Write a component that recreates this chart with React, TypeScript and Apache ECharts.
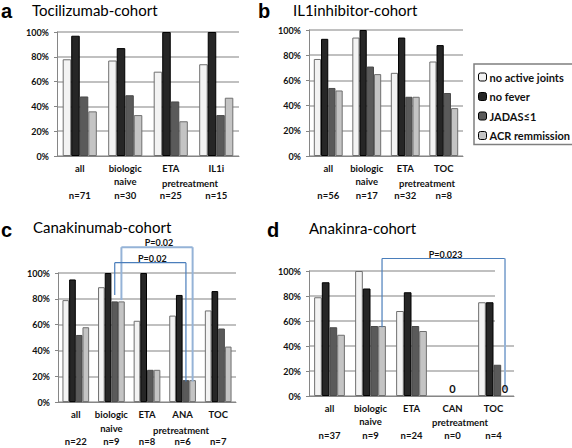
import React, { useEffect, useRef } from "react";
import * as echarts from "echarts";

// ---- data ----
const measureNames = ["no active joints", "no fever", "JADAS≤1", "ACR remmission"];

const catsA = ["all", "biologic\nnaive", "ETA", "IL1i"];
const nA = [71, 30, 25, 15];
const noActiveA = [78, 77, 68, 74];
const noFeverA = [97, 87, 100, 100];
const jadasA = [48, 49, 44, 33];
const acrA = [36, 33, 28, 47];

const catsB = ["all", "biologic\nnaive", "ETA", "TOC"];
const nB = [56, 17, 32, 8];
const noActiveB = [77, 94, 66, 75];
const noFeverB = [93, 100, 94, 88];
const jadasB = [54, 71, 47, 50];
const acrB = [52, 65, 47, 38];

const catsC = ["all", "biologic\nnaive", "ETA", "ANA", "TOC"];
const nC = [22, 9, 8, 6, 7];
const noActiveC = [79, 89, 63, 67, 71];
const noFeverC = [95, 100, 100, 83, 86];
const jadasC = [52, 78, 25, 17, 57];
const acrC = [58, 78, 25, 17, 43];

const catsD = ["all", "biologic\nnaive", "ETA", "CAN", "TOC"];
const nD = [37, 9, 24, 0, 4];
// null = 0 % without a visible bar (labelled "0" instead)
const noActiveD = [79, 100, 68, null, 75];
const noFeverD = [91, 86, 83, null, 75];
const jadasD = [55, 56, 56, null, 25];
const acrD = [49, 56, 52, null, null];
const zeroLabelsD = [
  { cat: 3, bar: null },
  { cat: 4, bar: 3 },
];

const titles = ["Tocilizumab-cohort", "IL1inhibitor-cohort", "Canakinumab-cohort", "Anakinra-cohort"];
const letters = ["a", "b", "c", "d"];

const DARK_BLUE = "#4a7ebb";
const LIGHT_BLUE = "#95b3d7";

// brackets: [category, bar index, value] for both ends; top = value of horizontal line
const bracketsC = [
  { from: [1, 3, 79], to: [3, 3, 16], top: 120, label: "P=0.02", colors: [LIGHT_BLUE, LIGHT_BLUE, LIGHT_BLUE], widths: [2, 2, 2] },
  { from: [1, 2, 83], to: [3, 2, 16], top: 108, label: "P=0.02", colors: [DARK_BLUE, DARK_BLUE, DARK_BLUE], widths: [1.2, 1.2, 1.2] },
];
const bracketsD = [
  { from: [1, 3, 55], to: [4, 3, 5], top: 110, label: "P=0.023", colors: [DARK_BLUE, DARK_BLUE, LIGHT_BLUE], widths: [1.2, 1.2, 2] },
];

const panels = [
  { cats: catsA, n: nA, values: [noActiveA, noFeverA, jadasA, acrA] },
  { cats: catsB, n: nB, values: [noActiveB, noFeverB, jadasB, acrB] },
  { cats: catsC, n: nC, values: [noActiveC, noFeverC, jadasC, acrC] },
  { cats: catsD, n: nD, values: [noActiveD, noFeverD, jadasD, acrD] },
];

const GAP = 0.25;
const FONT = "Lato";

function barX(api: any, cat: number, bar: number | null) {
  const bandW = api.size([1, 0])[0];
  const groupW = bandW * (1 - GAP);
  const c = api.coord([cat, 0])[0];
  if (bar == null) return c;
  return c - groupW / 2 + ((bar + 0.5) * groupW) / 4;
}

function bracketSeries(panel: number, brackets: any[], zeros: any[]) {
  return {
    type: "custom",
    xAxisIndex: panel,
    yAxisIndex: panel,
    clip: false,
    silent: true,
    z: 5,
    data: [[0, 0]],
    renderItem: (params: any, api: any) => {
      const children: any[] = [];
      brackets.forEach((b) => {
        const x1 = barX(api, b.from[0], b.from[1]);
        const y1 = api.coord([b.from[0], b.from[2]])[1];
        const x2 = barX(api, b.to[0], b.to[1]);
        const y2 = api.coord([b.to[0], b.to[2]])[1];
        const yt = api.coord([0, b.top])[1];
        const segs = [
          [[x1, y1], [x1, yt]],
          [[x1, yt], [x2, yt]],
          [[x2, yt], [x2, y2]],
        ];
        segs.forEach((pts, i) => {
          children.push({
            type: "polyline",
            shape: { points: pts },
            style: { stroke: b.colors[i], lineWidth: b.widths[i], fill: null },
          });
        });
        children.push({
          type: "text",
          style: {
            text: b.label,
            x: (x1 + x2) / 2 + 2,
            y: yt,
            align: "center",
            verticalAlign: "bottom",
            font: `bold 9px ${FONT}`,
            lineHeight: 9,
            fill: "#111",
          },
        });
      });
      zeros.forEach((z) => {
        const x = barX(api, z.cat, z.bar);
        const y = api.coord([z.cat, 0])[1];
        children.push({
          type: "text",
          style: {
            text: "0",
            x,
            y: y - 2,
            align: "center",
            verticalAlign: "bottom",
            font: `bold 11px ${FONT}`,
            fill: "#111",
          },
        });
      });
      return { type: "group", children };
    },
  };
}

const grids = [
  { left: 57, top: 32, width: 182, height: 124 },
  { left: 309, top: 30, width: 154, height: 126 },
  { left: 58, top: 273, width: 178, height: 130 },
  { left: 309, top: 271, width: 205, height: 125 },
];

const barStyles = [
  { color: "#f3f3f3", borderColor: "#6f6f6f" },
  { color: "#262626", borderColor: "#000000" },
  { color: "#5a5a5a", borderColor: "#4a4a4a" },
  { color: "#c4c4c4", borderColor: "#6f6f6f" },
];

export default function App() {
  const ref = useRef<HTMLDivElement>(null);
  useEffect(() => {
    if (!ref.current) return;
    const chart = echarts.init(ref.current, null, { renderer: "svg" });

    const xAxis = panels.map((p, i) => ({
      type: "category",
      gridIndex: i,
      data: p.cats,
      axisLine: { lineStyle: { color: "#868686", width: 1 } },
      axisTick: { length: 4, lineStyle: { color: "#868686" } },
      axisLabel: {
        interval: 0,
        margin: 6,
        fontFamily: FONT,
        fontSize: 9.5,
        fontWeight: "bold",
        color: "#111",
        lineHeight: 13.3,
        formatter: (v: string, idx: number) => {
          const lines = v.split("\n");
          return `${lines[0]}\n${lines[1] || " "}\nn=${p.n[idx]}`;
        },
      },
    }));

    const yAxis = panels.map((p, i) => ({
      type: "value",
      gridIndex: i,
      min: 0,
      max: 100,
      interval: 20,
      axisLine: { show: true, lineStyle: { color: "#868686" } },
      axisTick: { show: true, length: 3, lineStyle: { color: "#868686" } },
      splitLine: { lineStyle: { color: "#c0c0c0", width: 2 } },
      axisLabel: {
        margin: 8,
        fontFamily: FONT,
        fontSize: 9,
        fontWeight: "bold",
        color: "#111",
        formatter: "{value}%",
      },
    }));

    const series: any[] = [];
    panels.forEach((p, pi) => {
      p.values.forEach((vals, mi) => {
        series.push({
          type: "bar",
          name: measureNames[mi],
          xAxisIndex: pi,
          yAxisIndex: pi,
          data: vals,
          barGap: "0%",
          barCategoryGap: `${GAP * 100}%`,
          itemStyle: { ...barStyles[mi], borderWidth: 1 },
          z: 2,
        });
      });
    });
    series.push(bracketSeries(2, bracketsC, []));
    series.push(bracketSeries(3, bracketsD, zeroLabelsD));

    const letterPos = [
      [1, 10.5],
      [258, 10.5],
      [1, 230],
      [267, 230],
    ];
    const titlePos = [
      [32, 10],
      [293, 10],
      [33, 227],
      [309, 228],
    ];
    const pretreatPos = [
      [190, 183],
      [427, 183],
      [181, 430],
      [460, 422],
    ];

    const graphic: any[] = [];
    letters.forEach((l, i) => {
      graphic.push({
        type: "text",
        x: letterPos[i][0],
        y: letterPos[i][1],
        style: { text: l, font: "bold 20px 'Liberation Sans'", fill: "#000", verticalAlign: "middle" },
      });
      graphic.push({
        type: "text",
        x: titlePos[i][0],
        y: titlePos[i][1],
        style: {
          text: titles[i],
          font: `15px ${FONT}`,
          lineHeight: 14,
          fill: "#000",
          verticalAlign: "middle",
        },
      });
      graphic.push({
        type: "text",
        x: pretreatPos[i][0],
        y: pretreatPos[i][1],
        style: {
          text: "pretreatment",
          font: `bold 9.5px ${FONT}`,
          fill: "#111",
          align: "center",
          verticalAlign: "middle",
        },
      });
    });
    graphic.push({
      type: "rect",
      z: 1,
      shape: { x: 495, y: 264, width: 20, height: 70 },
      style: { fill: "#fff" },
    });

    chart.setOption({
      animation: false,
      textStyle: { fontFamily: FONT },
      grid: grids.map((g) => ({ ...g, containLabel: false })),
      xAxis,
      yAxis,
      series,
      legend: {
        data: measureNames,
        orient: "vertical",
        left: 474,
        top: 64,
        padding: [7, 6, 3, 4],
        itemGap: 7.5,
        itemWidth: 8,
        itemHeight: 8,
        borderColor: "#7f7f7f",
        borderWidth: 1.5,
        borderRadius: 0,
        selectedMode: false,
        textStyle: {
          fontFamily: FONT,
          fontSize: 11,
          fontWeight: "bold",
          color: "#111",
          lineHeight: 12,
          padding: [0, 0, 0, -2],
        },
        itemStyle: { borderColor: "#000", borderWidth: 1 },
      },
      graphic,
    });
    return () => chart.dispose();
  }, []);
  return (
    <div
      ref={ref}
      style={{ position: "fixed", left: 0, top: 0, width: 572, height: 448, background: "#fff" }}
    />
  );
}
